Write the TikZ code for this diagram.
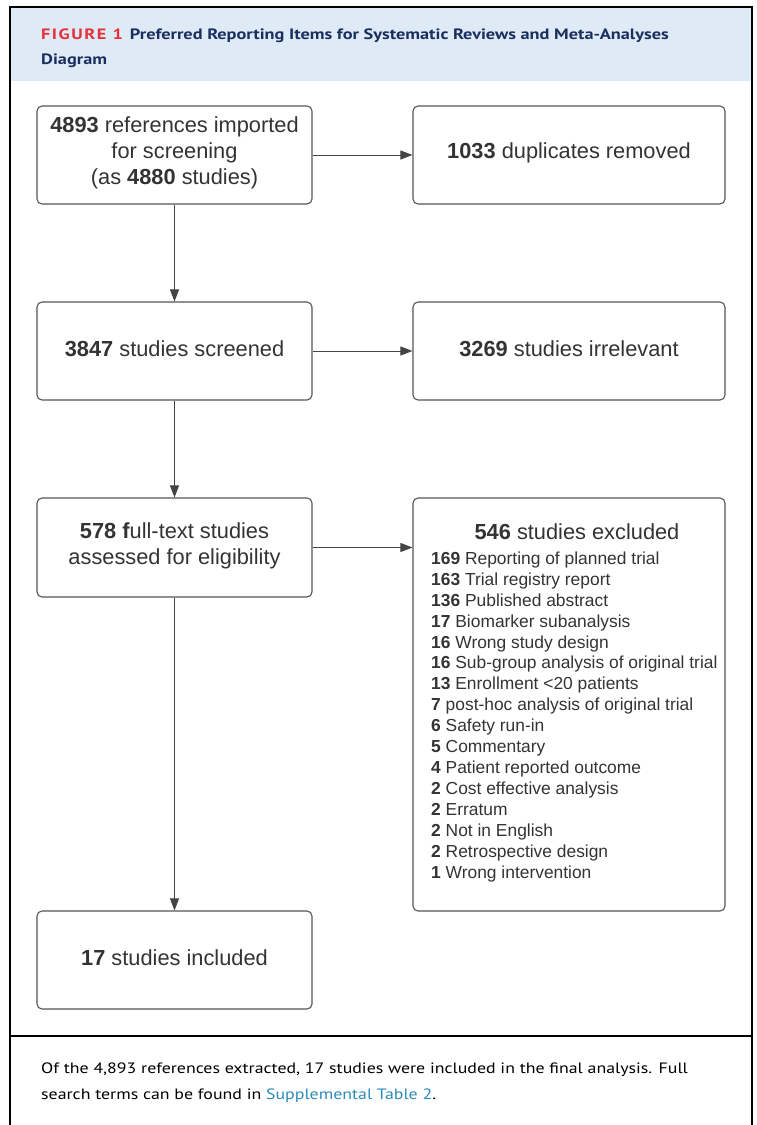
\documentclass[tikz,border=0pt]{standalone}
\usepackage{fontspec}
\setmainfont{Liberation Sans}
\newfontfamily\capfont[FakeStretch=1.19]{PT Sans}
\newfontfamily\hdrfont[FakeStretch=1.22]{PT Sans}
\usetikzlibrary{arrows.meta}
\definecolor{hdrbg}{HTML}{DEEAF6}
\definecolor{figred}{HTML}{E8303A}
\definecolor{navy}{HTML}{1B2F5E}
\definecolor{boxtxt}{HTML}{333333}
\definecolor{boxline}{HTML}{555555}
\definecolor{linkc}{HTML}{2A8AB8}
\tikzset{
  x=1pt,y=-1pt,
  flowbox/.style={draw=boxline,line width=1.1pt,rounded corners=5pt,inner sep=0pt},
  boxtext/.style={text=boxtxt,font=\fontsize{21.8}{26}\selectfont,align=center,yshift=2pt},
  listtext/.style={text=boxtxt,font=\fontsize{17.4}{20.93}\selectfont,align=left,anchor=north west,inner sep=0pt},
  flowarrow/.style={draw=boxline!80!black,line width=0.9pt,-{Triangle[length=12pt,width=9pt]}},
  frameline/.style={draw=black,line width=1.3pt}
}
\begin{document}
\begin{tikzpicture}
\useasboundingbox (0,0) rectangle (756,1125);
% header band
\fill[hdrbg] (10,8) rectangle (752,81);
\draw[frameline] (10,1125) -- (10,7) -- (752,7) -- (752,1125);
\draw[frameline] (10,1036) -- (752,1036);
\node[anchor=base west,inner sep=0pt,font=\hdrfont\bfseries\fontsize{15}{18}\selectfont] (title) at (41,39)
  {\textcolor{figred}{\addfontfeature{LetterSpace=10}FIGURE 1}\hspace{7pt}\textcolor{navy}{Preferred Reporting Items for Systematic Reviews and Meta-Analyses}};
\node[anchor=base west,inner sep=0pt,font=\hdrfont\bfseries\fontsize{15}{18}\selectfont,text=navy] (title2) at (41,64) {Diagram};
% boxes
\node[flowbox,minimum width=275pt,minimum height=98pt] (b1) at (174.5,155) {};
\node[boxtext] (t1) at (b1.center) {\textbf{4893} references imported\\for screening\\(as \textbf{4880} studies)};
\node[flowbox,minimum width=312pt,minimum height=98pt] (d1) at (569,155) {};
\node[boxtext] (td1) at (d1.center) {\textbf{1033} duplicates removed};
\node[flowbox,minimum width=275pt,minimum height=98pt] (b2) at (174.5,351) {};
\node[boxtext] (t2) at (b2.center) {\textbf{3847} studies screened};
\node[flowbox,minimum width=312pt,minimum height=98pt] (d2) at (569,351) {};
\node[boxtext] (td2) at (d2.center) {\textbf{3269} studies irrelevant};
\node[flowbox,minimum width=275pt,minimum height=99pt] (b3) at (174.5,547.5) {};
\node[boxtext] (t3) at (b3.center) {\textbf{578 f}ull-text studies\\assessed for eligibility};
\node[flowbox,minimum width=312pt,minimum height=413pt] (d3) at (569,704.5) {};
\node[boxtext] (td3) at (577,534) {\textbf{546} studies excluded};
\node[listtext] (list) at (431,551.5) {\textbf{169} Reporting of planned trial\\
\textbf{163} Trial registry report\\
\textbf{136} Published abstract\\
\textbf{17} Biomarker subanalysis\\
\textbf{16} Wrong study design\\
\textbf{16} Sub-group analysis of original trial\\
\textbf{13} Enrollment <20 patients\\
\textbf{7} post-hoc analysis of original trial\\
\textbf{6} Safety run-in\\
\textbf{5} Commentary\\
\textbf{4} Patient reported outcome\\
\textbf{2} Cost effective analysis\\
\textbf{2} Erratum\\
\textbf{2} Not in English\\
\textbf{2} Retrospective design\\
\textbf{1} Wrong intervention};
\node[flowbox,minimum width=275pt,minimum height=98pt] (b4) at (174.5,960) {};
\node[boxtext] (t4) at (b4.center) {\textbf{17} studies included};
% arrows
\draw[flowarrow] (b1) -- (b2);
\draw[flowarrow] (b2) -- (b3);
\draw[flowarrow] (b3) -- (b4);
\draw[flowarrow] (b1) -- (d1);
\draw[flowarrow] (b2) -- (d2);
\draw[flowarrow] (b3.east) -- (b3.east -| d3.west);
% caption
\node[anchor=base west,inner sep=0pt,font=\capfont\fontsize{15}{18}\selectfont,text=black] (cap1) at (41,1073) {Of the 4,893 references extracted, 17 studies were included in the final analysis. Full};
\node[anchor=base west,inner sep=0pt,font=\capfont\fontsize{15}{18}\selectfont,text=black] (cap2) at (41,1099) {search terms can be found in \textcolor{linkc}{Supplemental Table 2}.};
\end{tikzpicture}
\end{document}
